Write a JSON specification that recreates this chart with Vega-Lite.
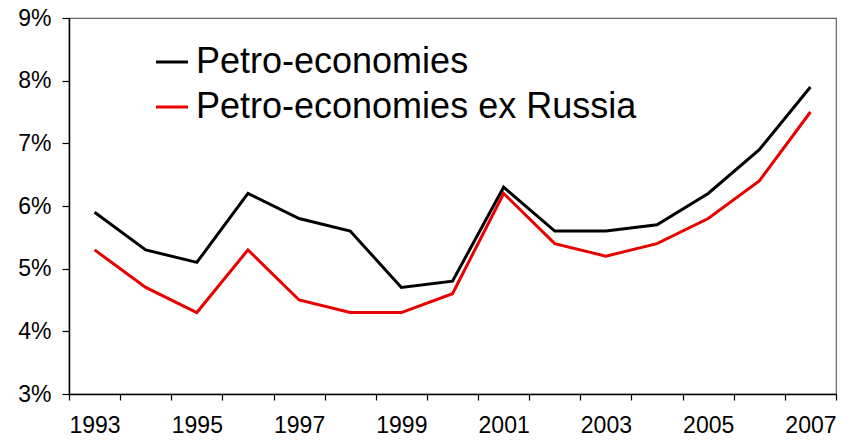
{
  "$schema": "https://vega.github.io/schema/vega-lite/v6.json",
  "width": 767,
  "height": 376,
  "autosize": "none",
  "padding": {"left": 69, "top": 18, "right": 15, "bottom": 46},
  "background": "white",
  "config": {
    "font": "Liberation Sans",
    "view": {"stroke": "#666666", "strokeWidth": 1.2},
    "axis": {"grid": false, "domainColor": "black", "domainWidth": 1.5, "tickColor": "black", "tickWidth": 1.2, "labelColor": "black", "labelFont": "Liberation Sans", "title": null}
  },
  "data": {
    "values": [
      {"year": 1993, "series": "Petro-economies", "value": 5.9},
      {"year": 1994, "series": "Petro-economies", "value": 5.3},
      {"year": 1995, "series": "Petro-economies", "value": 5.1},
      {"year": 1996, "series": "Petro-economies", "value": 6.2},
      {"year": 1997, "series": "Petro-economies", "value": 5.8},
      {"year": 1998, "series": "Petro-economies", "value": 5.6},
      {"year": 1999, "series": "Petro-economies", "value": 4.7},
      {"year": 2000, "series": "Petro-economies", "value": 4.8},
      {"year": 2001, "series": "Petro-economies", "value": 6.3},
      {"year": 2002, "series": "Petro-economies", "value": 5.6},
      {"year": 2003, "series": "Petro-economies", "value": 5.6},
      {"year": 2004, "series": "Petro-economies", "value": 5.7},
      {"year": 2005, "series": "Petro-economies", "value": 6.2},
      {"year": 2006, "series": "Petro-economies", "value": 6.9},
      {"year": 2007, "series": "Petro-economies", "value": 7.9},
      {"year": 1993, "series": "Petro-economies ex Russia", "value": 5.3},
      {"year": 1994, "series": "Petro-economies ex Russia", "value": 4.7},
      {"year": 1995, "series": "Petro-economies ex Russia", "value": 4.3},
      {"year": 1996, "series": "Petro-economies ex Russia", "value": 5.3},
      {"year": 1997, "series": "Petro-economies ex Russia", "value": 4.5},
      {"year": 1998, "series": "Petro-economies ex Russia", "value": 4.3},
      {"year": 1999, "series": "Petro-economies ex Russia", "value": 4.3},
      {"year": 2000, "series": "Petro-economies ex Russia", "value": 4.6},
      {"year": 2001, "series": "Petro-economies ex Russia", "value": 6.2},
      {"year": 2002, "series": "Petro-economies ex Russia", "value": 5.4},
      {"year": 2003, "series": "Petro-economies ex Russia", "value": 5.2},
      {"year": 2004, "series": "Petro-economies ex Russia", "value": 5.4},
      {"year": 2005, "series": "Petro-economies ex Russia", "value": 5.8},
      {"year": 2006, "series": "Petro-economies ex Russia", "value": 6.4},
      {"year": 2007, "series": "Petro-economies ex Russia", "value": 7.5}
    ]
  },
  "mark": {"type": "line", "strokeWidth": 3, "strokeJoin": "miter"},
  "encoding": {
    "x": {
      "field": "year",
      "type": "ordinal",
      "bandPosition": 0.5,
      "scale": {"type": "band", "paddingInner": 0, "paddingOuter": 0},
      "axis": {
        "labelAngle": 0,
        "tickBand": "extent",
        "tickSize": 6,
        "labelPadding": 14,
        "labelFontSize": 23,
        "labelExpr": "datum.value % 2 == 1 ? datum.label : ''"
      }
    },
    "y": {
      "field": "value",
      "type": "quantitative",
      "scale": {"domain": [3, 9], "nice": false, "zero": false},
      "axis": {
        "values": [3, 4, 5, 6, 7, 8, 9],
        "tickSize": 7,
        "labelPadding": 11,
        "labelFontSize": 23,
        "labelExpr": "datum.value + '%'"
      }
    },
    "color": {
      "field": "series",
      "type": "nominal",
      "scale": {"domain": ["Petro-economies", "Petro-economies ex Russia"], "range": ["#000000", "#e80000"]},
      "legend": {
        "title": null,
        "orient": "none",
        "legendX": 85,
        "legendY": 26,
        "padding": 0,
        "symbolType": "stroke",
        "symbolSize": 1024,
        "symbolStrokeWidth": 3,
        "labelFontSize": 36,
        "labelColor": "black",
        "labelFont": "Liberation Sans",
        "labelOffset": 6,
        "labelLimit": 600,
        "rowPadding": 9
      }
    }
  }
}
